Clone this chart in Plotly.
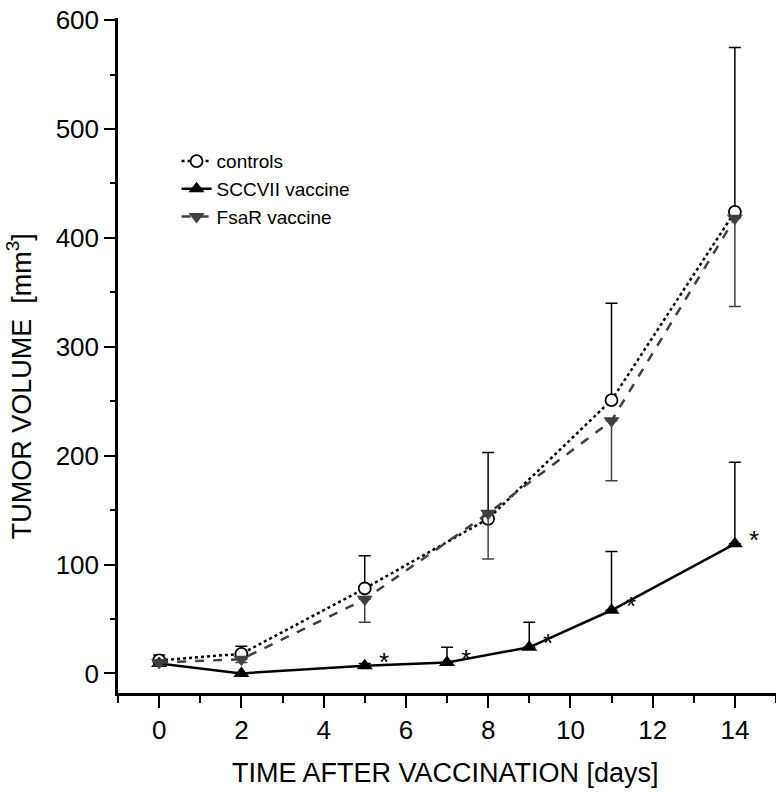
import plotly.graph_objects as go

# Data
ctrl_x = [0, 2, 5, 8, 11, 14]
ctrl_y = [12, 18, 78, 142, 251, 424]
ctrl_err_up = [5, 7, 30, 61, 89, 151]

fsar_x = [0, 2, 5, 8, 11, 14]
fsar_y = [10, 13, 68, 147, 232, 418]
fsar_err_down = [3, 3, 21, 42, 55, 81]

scc_x = [0, 2, 5, 7, 9, 11, 14]
scc_y = [9, 0, 7, 10, 24, 58, 119]
scc_err_up = [2, 0, 2, 14, 23, 54, 75]
scc_signif = [False, False, True, True, True, True, True]

x_ticks = [0, 2, 4, 6, 8, 10, 12, 14]
y_ticks = [0, 100, 200, 300, 400, 500, 600]

FONT = "Liberation Sans, Arial, Helvetica, sans-serif"

fig = go.Figure()

fig.add_trace(go.Scatter(
    x=ctrl_x, y=ctrl_y, name="controls", mode="lines+markers",
    line=dict(color="black", width=2.5, dash="dot"),
    marker=dict(symbol="circle", size=12, color="white", line=dict(color="black", width=1.8)),
    error_y=dict(type="data", symmetric=False, array=ctrl_err_up,
                 arrayminus=[0] * len(ctrl_y), color="black", thickness=1.5, width=6),
))

fig.add_trace(go.Scatter(
    x=scc_x, y=scc_y, name="SCCVII vaccine", mode="lines+markers",
    line=dict(color="black", width=2.5),
    marker=dict(symbol="triangle-up", size=14, color="black"),
    error_y=dict(type="data", symmetric=False, array=scc_err_up,
                 arrayminus=[0] * len(scc_y), color="black", thickness=1.5, width=6),
))

fig.add_trace(go.Scatter(
    x=fsar_x, y=fsar_y, name="FsaR vaccine", mode="lines+markers",
    line=dict(color="#404040", width=2.5, dash="dash"),
    marker=dict(symbol="triangle-down", size=14, color="#404040"),
    error_y=dict(type="data", symmetric=False, array=[0] * len(fsar_y),
                 arrayminus=fsar_err_down, color="#404040", thickness=1.5, width=6),
))

# significance asterisks
for xv, yv, s in zip(scc_x, scc_y, scc_signif):
    if s:
        fig.add_annotation(x=xv, y=yv, text="*", showarrow=False,
                           xshift=19, yshift=4,
                           font=dict(family=FONT, size=26, color="black"))

# axis titles as annotations (positioned to match reference)
fig.add_annotation(text="TUMOR VOLUME  [mm<sup>3</sup>]", textangle=-90,
                   xref="paper", yref="paper", x=-0.150, y=0.455,
                   xanchor="center", yanchor="middle", showarrow=False,
                   font=dict(family=FONT, size=27, color="black"))
fig.add_annotation(text="TIME AFTER VACCINATION [days]",
                   xref="paper", yref="paper", x=0.498, y=-0.1185,
                   xanchor="center", yanchor="middle", showarrow=False,
                   font=dict(family=FONT, size=27, color="black"))

fig.update_layout(
    width=776, height=792,
    margin=dict(l=118, r=0, t=18, b=99),
    paper_bgcolor="white", plot_bgcolor="white",
    showlegend=True,
    legend=dict(x=0.089, y=0.816, xanchor="left", yanchor="top",
                bgcolor="rgba(0,0,0,0)", font=dict(family=FONT, size=19, color="black"),
                tracegroupgap=0, itemwidth=30),
    font=dict(family=FONT, color="black"),
)

fig.update_xaxes(
    range=[-1, 15], tickvals=x_ticks, ticktext=[str(v) for v in x_ticks],
    automargin=False, ticklabeloverflow="allow",
    showgrid=False, zeroline=False, showline=True, linecolor="black", linewidth=2.5,
    ticks="outside", ticklen=12, tickwidth=2, tickcolor="black",
    minor=dict(dtick=1, tick0=1, ticks="outside", ticklen=7, tickwidth=2, tickcolor="black"),
    tickfont=dict(family=FONT, size=26, color="black"),
)

fig.update_yaxes(
    range=[-18, 602], tickvals=y_ticks, ticktext=[str(v) for v in y_ticks],
    automargin=False, ticklabeloverflow="allow",
    showgrid=False, zeroline=False, showline=True, linecolor="black", linewidth=2.5,
    ticks="outside", ticklen=11, tickwidth=2, tickcolor="black",
    minor=dict(dtick=50, tick0=50, ticks="outside", ticklen=5, tickwidth=2, tickcolor="black"),
    tickfont=dict(family=FONT, size=26, color="black"),
)

fig.write_html("out.html",
               config={"displayModeBar": False},
               post_script="document.body.style.margin='0';document.body.style.overflow='hidden';")
